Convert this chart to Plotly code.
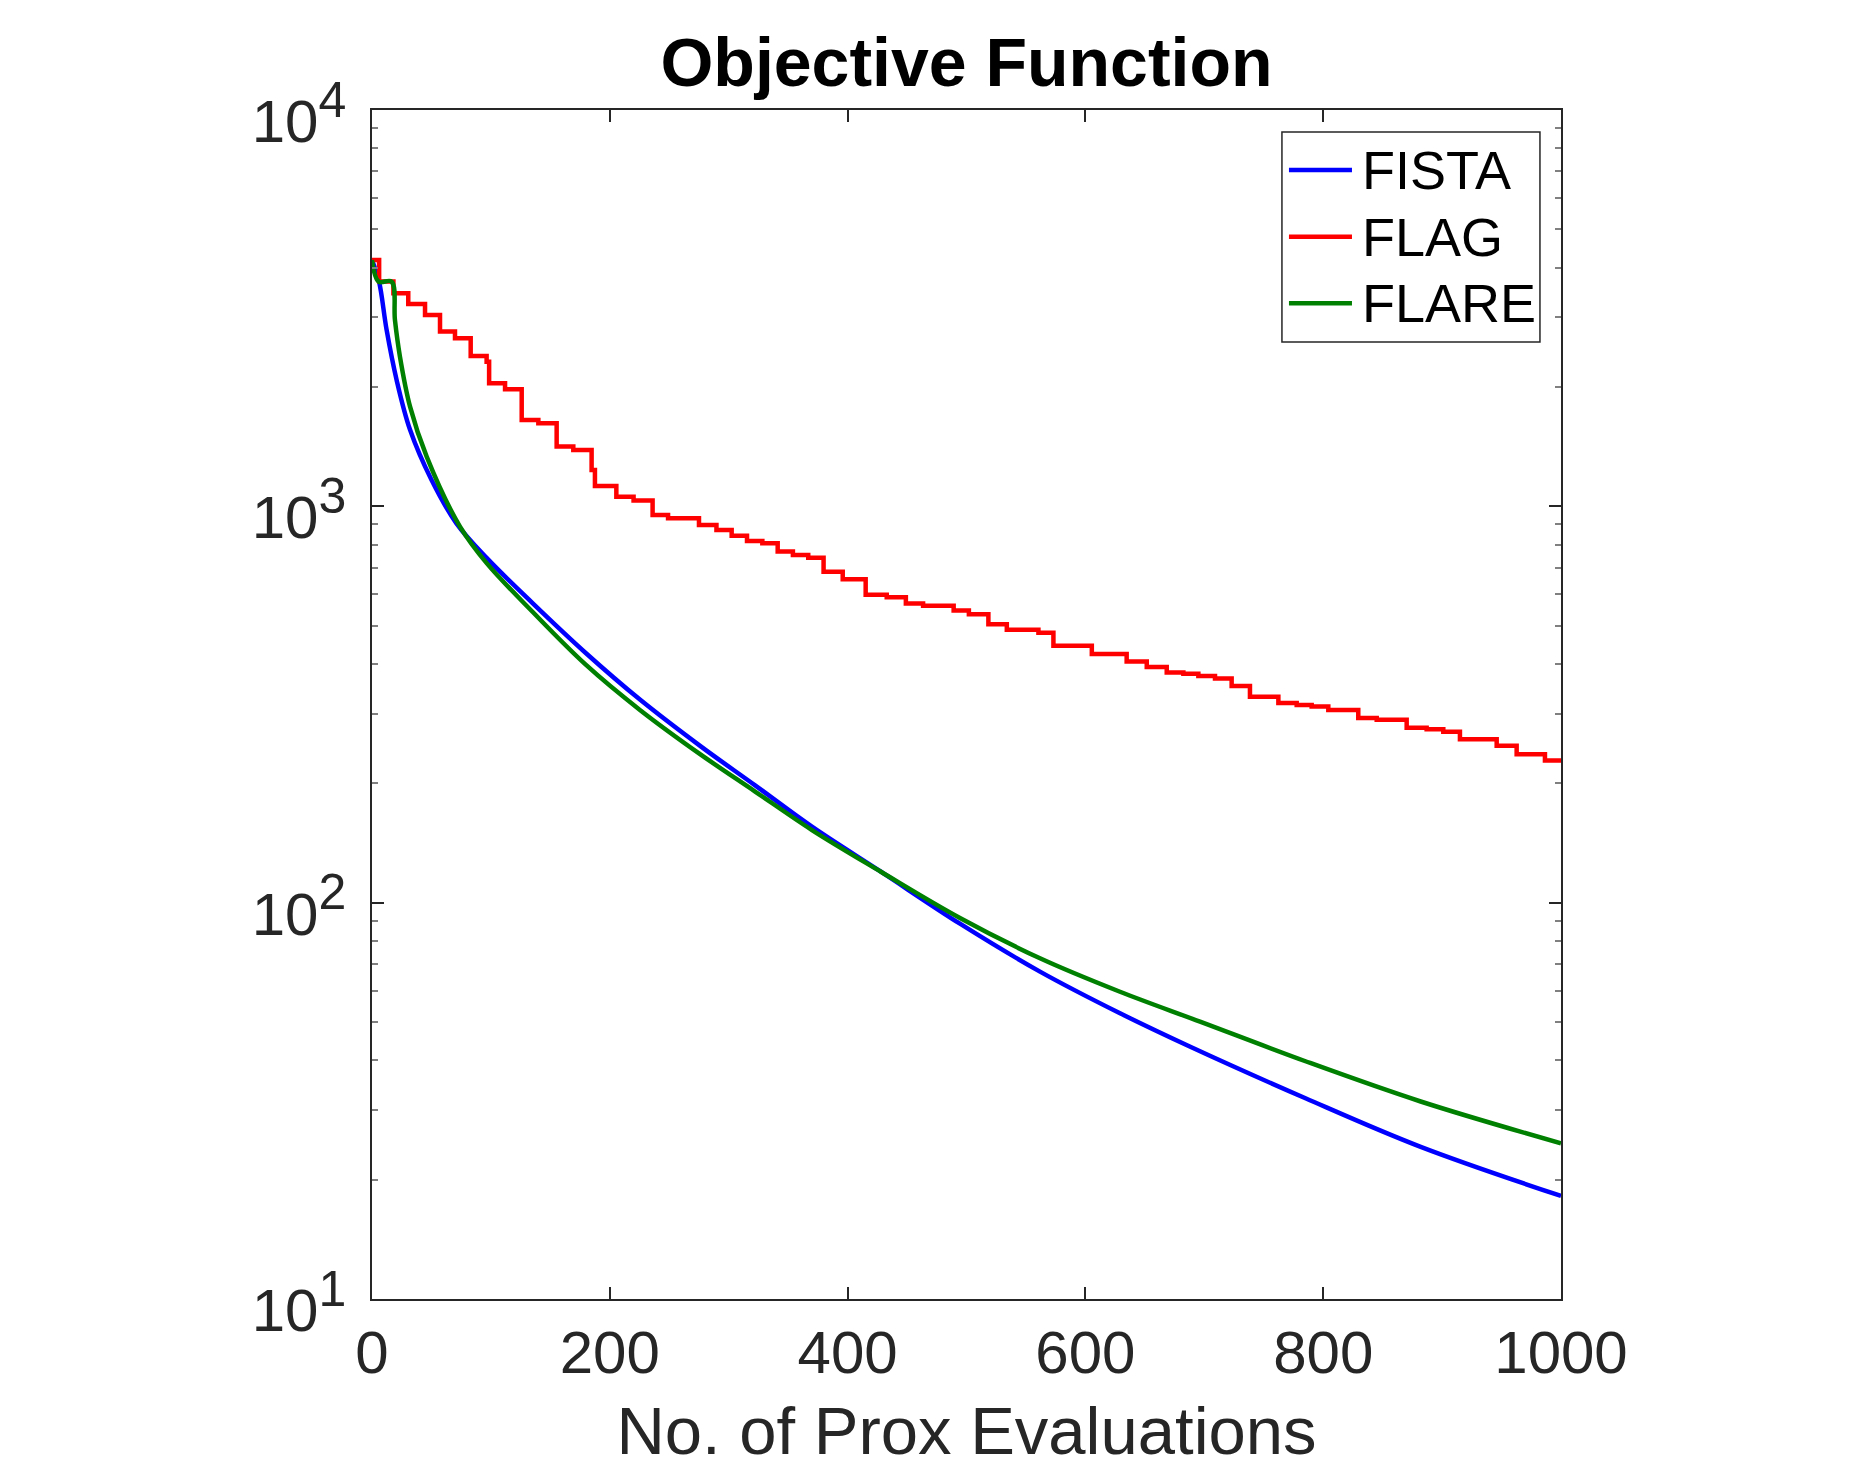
import plotly.graph_objects as go

# ---------------- data ----------------
series_names = ["FISTA", "FLAG", "FLARE"]
series_colors = ["#0000FF", "#FF0000", "#008000"]

fista_x = [0, 5.9, 12.3, 20.7, 32, 50, 71, 96.6, 135, 180, 225.6, 276.8, 321.9,
           370, 428, 494.5, 561.8, 629.1, 688.2, 785.1, 882, 1000]
fista_y = [4184, 3690, 2786, 2084, 1560, 1167, 906, 740, 570, 426, 325, 247.6, 198,
           155.5, 119.7, 88.5, 67.0, 52.6, 43.3, 32.1, 24.2, 18.2]

flag_x = [0, 6, 18, 30.5, 44.6, 57.2, 69.8, 83, 96.4, 98.5, 111.9, 125.9, 139.9,
          155.3, 169.3, 184.7, 187.5, 205.5, 220, 236, 249, 275, 289.7, 302.5,
          315.4, 328.3, 341.2, 354, 366.9, 379.8, 395.9, 415.2, 432.9, 449, 463.5,
          489.2, 502, 518.4, 533.9, 560.5, 573.1, 605.4, 634.7, 651.6, 668.4,
          682.4, 695, 709, 723, 738.4, 762.3, 777.7, 790.3, 804.3, 829.5, 845,
          870.2, 887, 901, 915, 945.9, 962.7, 986.5, 1000]
flag_y = [4184, 3690, 3450, 3241, 3041, 2760, 2656, 2396, 2318, 2045, 1975, 1652, 1620,
          1415, 1388, 1235, 1126, 1058, 1034, 951, 933, 897, 872, 843,
          818, 807, 769, 754, 742, 684, 655, 598, 590, 569, 561,
          546, 534, 504, 488, 480, 445, 424, 406, 393, 381,
          378, 373, 368, 352, 331, 319, 315.5, 312.4, 306.4, 292.4, 289.6,
          276.4, 273.8, 270, 258.5, 249, 237, 228.3, 228.3]

flare_x = [0, 5.6, 16.5, 19.3, 23.5, 32, 46, 74, 96.6, 135, 180, 225.6, 276.8,
           321.9, 370, 428, 494.5, 561.8, 629.1, 696.4, 785.1, 882, 1000]
flare_y = [4184, 3690, 3690, 2951, 2388, 1785, 1335, 889, 718, 542, 398, 306, 236,
           191, 152.5, 119.7, 91.5, 72.4, 59.6, 50.1, 39.8, 31.5, 24.7]

x_tick_vals = [0, 200, 400, 600, 800, 1000]
x_tick_text = ["0", "200", "400", "600", "800", "1000"]
y_tick_vals = [10, 100, 1000, 10000]
y_tick_exp = ["1", "2", "3", "4"]
y_minor_vals = [m * d for d in (10, 100, 1000) for m in range(2, 10)]

# ---------------- figure ----------------
AX = "#262626"
FONT = "Liberation Sans, Arial, Helvetica, sans-serif"
LW = 4.5

fig = go.Figure()
fig.add_trace(go.Scatter(x=fista_x, y=fista_y, mode="lines", name=series_names[0],
                         line=dict(color=series_colors[0], width=LW, shape="spline", smoothing=1.0)))
fig.add_trace(go.Scatter(x=flag_x, y=flag_y, mode="lines", name=series_names[1],
                         line=dict(color=series_colors[1], width=LW, shape="hv")))
fig.add_trace(go.Scatter(x=flare_x, y=flare_y, mode="lines", name=series_names[2],
                         line=dict(color=series_colors[2], width=LW, shape="spline", smoothing=1.0)))

# custom legend box (MATLAB style, long line samples)
shapes = [dict(type="rect", xref="paper", yref="paper", x0=0.7653, x1=0.9823, y0=0.8049, y1=0.9815,
               line=dict(color=AX, width=1.5), fillcolor="white", layer="above")]
annotations = []
row_y = [0.9495, 0.8934, 0.8374]
for name, col, yy in zip(series_names, series_colors, row_y):
    shapes.append(dict(type="line", xref="paper", yref="paper", x0=0.7712, x1=0.8242, y0=yy, y1=yy,
                       line=dict(color=col, width=LW), layer="above"))
    annotations.append(dict(text=name, xref="paper", yref="paper", x=0.8310, y=yy,
                            xanchor="left", yanchor="middle", showarrow=False,
                            font=dict(family=FONT, size=54, color="black")))

fig.update_layout(
    width=1859, height=1465,
    margin=dict(l=364, r=306, t=102, b=174),
    paper_bgcolor="white", plot_bgcolor="white",
    font=dict(family=FONT, color=AX, size=60),
    title=dict(text="<b>Objective Function</b>", x=0.5, xref="paper", xanchor="center",
               y=1 - 54 / 1465, yref="container", yanchor="middle",
               font=dict(family=FONT, size=68, color="black")),
    showlegend=False,
    shapes=shapes,
    annotations=annotations,
    xaxis=dict(range=[0, 1000], tickmode="array", tickvals=x_tick_vals, ticktext=x_tick_text,
               ticks="inside", ticklen=12, tickwidth=1.5, tickcolor=AX,
               showline=True, linecolor=AX, linewidth=1.5, mirror="allticks",
               showgrid=False, zeroline=False, tickfont=dict(size=60, color=AX),
               title=dict(text="No. of Prox Evaluations", font=dict(size=67, color=AX), standoff=22)),
    yaxis=dict(type="log", range=[1, 4], tickmode="array", tickvals=y_tick_vals,
               ticktext=["10<sup><span style='font-size:50px'>%s</span></sup>" % e for e in y_tick_exp],
               ticks="inside", ticklen=12, tickwidth=1.5, tickcolor=AX,
               ticklabelstandoff=12, ticklabelshift=11,
               minor=dict(tickmode="array", tickvals=y_minor_vals, ticks="inside", ticklen=6,
                          tickwidth=1.5, tickcolor="#808080", showgrid=False),
               showline=True, linecolor=AX, linewidth=1.5, mirror="allticks",
               showgrid=False, zeroline=False, tickfont=dict(size=60, color=AX)),
)

fig.write_html("out.html")
